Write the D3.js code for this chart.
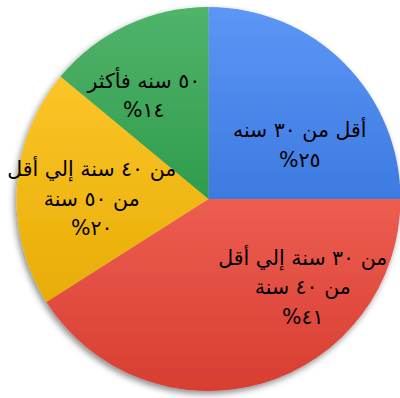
<!DOCTYPE html>
<html>
<head>
<meta charset="utf-8">
<script src="https://cdn.jsdelivr.net/npm/d3@7"></script>
<style>
  body { margin: 0; background: #fff; }
  svg { display: block; }
  .label { font-family: "DejaVu Sans", sans-serif; font-size: 20.5px; fill: #000; }
</style>
</head>
<body>
<div id="chart"></div>
<script>
// slices in clockwise order from 12 o'clock
var categories = [
  ["أقل من ٣٠ سنه"],
  ["من ٣٠ سنة إلي أقل", "من ٤٠ سنة"],
  ["من ٤٠ سنة إلي أقل", "من ٥٠ سنة"],
  ["٥٠ سنه فأكثر"]
];
var values = [25, 41, 20, 14];
var percentLabels = ["٢٥%", "٤١%", "٢٠%", "١٤%"];
var colors = ["#4285f4", "#ea4335", "#fbbc05", "#34a853"];

var width = 400, height = 398;
var cx = 208.5, cy = 199, radius = 192;

var svg = d3.select("#chart").append("svg")
  .attr("width", width)
  .attr("height", height);

var defs = svg.append("defs");

var shadow = defs.append("filter")
  .attr("id", "shadow")
  .attr("x", "-10%").attr("y", "-10%")
  .attr("width", "120%").attr("height", "120%");
shadow.append("feDropShadow")
  .attr("dx", -2).attr("dy", 3)
  .attr("stdDeviation", 3)
  .attr("flood-color", "#000")
  .attr("flood-opacity", 0.45);

colors.forEach(function(c, i) {
  var g = defs.append("linearGradient")
    .attr("id", "grad" + i)
    .attr("x1", 0).attr("y1", 0)
    .attr("x2", 0).attr("y2", 1);
  g.append("stop").attr("offset", "0%")
    .attr("stop-color", d3.interpolateRgb(c, "#fff")(0.14));
  g.append("stop").attr("offset", "100%")
    .attr("stop-color", d3.interpolateRgb(c, "#000")(0.08));
});

var pie = d3.pie().sort(null).value(function(d) { return d; });
var arcs = pie(values);

var arc = d3.arc().innerRadius(0).outerRadius(radius);
var labelArc = d3.arc().innerRadius(radius * 0.62).outerRadius(radius * 0.62);

var g = svg.append("g").attr("transform", "translate(" + cx + "," + cy + ")");

g.append("g")
  .attr("filter", "url(#shadow)")
  .selectAll("path")
  .data(arcs)
  .enter()
  .append("path")
  .attr("d", arc)
  .attr("fill", function(d, i) { return "url(#grad" + i + ")"; });

// small nudges so the labels sit where the original put them
var nudge = [[7, 30], [61, -26], [2, 7], [-14, 4]];
var lineHeight = 29.5;

arcs.forEach(function(d, i) {
  var c = labelArc.centroid(d);
  var lines = categories[i].concat([percentLabels[i]]);
  var x = c[0] + nudge[i][0];
  var y0 = c[1] + nudge[i][1] - (lines.length - 1) * lineHeight / 2;
  var t = g.append("text")
    .attr("class", "label")
    .attr("direction", "rtl")
    .attr("text-anchor", "middle")
    .attr("dominant-baseline", "central");
  lines.forEach(function(line, j) {
    t.append("tspan")
      .attr("x", x)
      .attr("y", y0 + j * lineHeight)
      .text(line);
  });
});
</script>
</body>
</html>
